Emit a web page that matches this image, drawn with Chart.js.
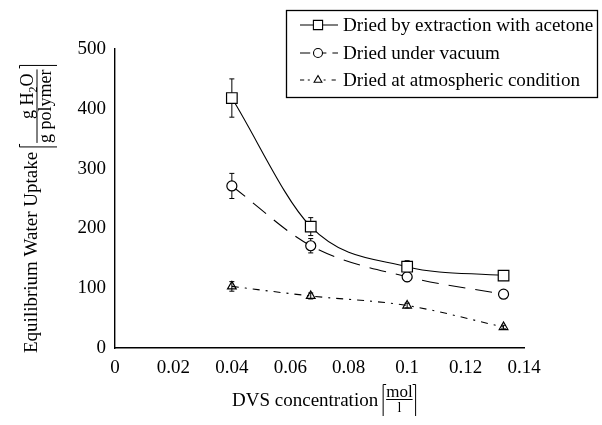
<!DOCTYPE html>
<html><head><meta charset="utf-8">
<script src="https://cdn.jsdelivr.net/npm/chart.js@4/dist/chart.umd.min.js"></script>
<style>html,body{margin:0;padding:0;background:#fff;}canvas{display:block;}</style>
</head><body>
<canvas id="c" width="602" height="425"></canvas>
<script>
// ---- data ----
const xValues = [0.04, 0.067, 0.1, 0.133];
const acetone = [418, 203, 136, 121];
const vacuum = [271, 171, 119, 90];
const atmospheric = [103, 87, 71, 35];
const acetoneErr = [32, 15, 10, 6];
const vacuumErr = [21, 12, 8, 5];
const atmosphericErr = [8, 5, 4, 3];
const seriesNames = ['Dried by extraction with acetone', 'Dried under vacuum', 'Dried at atmospheric condition'];
const xTicks = [0, 0.02, 0.04, 0.06, 0.08, 0.1, 0.12, 0.14];
const xTickLabels = ['0', '0.02', '0.04', '0.06', '0.08', '0.1', '0.12', '0.14'];
const yTicks = [0, 100, 200, 300, 400, 500];
const yTickLabels = ['0', '100', '200', '300', '400', '500'];
const xTitle = 'DVS concentration';
const xUnitTop = 'mol';
const xUnitBottom = 'l';
const yTitle = 'Equilibrium Water Uptake';
const yUnitTopParts = ['g H', '2', 'O'];
const yUnitBottom = 'g polymer';

const FONT = '"Liberation Serif", "DejaVu Serif", serif';

function pts(ys) { return xValues.map((x, i) => ({ x: x, y: ys[i] })); }

const datasets = [
  { label: seriesNames[0], data: pts(acetone), errors: acetoneErr, pointStyle: 'rect', pointRadius: 7.5,
    borderDash: [], pointBackgroundColor: '#fff' },
  { label: seriesNames[1], data: pts(vacuum), errors: vacuumErr, pointStyle: 'circle', pointRadius: 5,
    borderDash: [17, 10], pointBackgroundColor: '#fff' },
  { label: seriesNames[2], data: pts(atmospheric), errors: atmosphericErr, pointStyle: 'triangle', pointRadius: 5,
    borderDash: [7, 6, 2, 6], pointBackgroundColor: 'rgba(255,255,255,0)' }
].map(d => Object.assign({
  borderColor: '#000', borderWidth: 1.1, pointBorderColor: '#000', pointBorderWidth: 1.2,
  fill: false, cubicInterpolationMode: 'monotone', pointHoverRadius: 5
}, d));

const errorBars = {
  id: 'errorBars',
  beforeDatasetsDraw(chart) {
    const ctx = chart.ctx, ys = chart.scales.y;
    ctx.save();
    ctx.strokeStyle = '#000';
    ctx.lineWidth = 1;
    chart.data.datasets.forEach((ds, di) => {
      const meta = chart.getDatasetMeta(di);
      meta.data.forEach((pt, i) => {
        const v = ds.data[i].y, e = ds.errors[i];
        const x = pt.x, y1 = ys.getPixelForValue(v + e), y2 = ys.getPixelForValue(v - e);
        ctx.beginPath();
        ctx.moveTo(x, y1); ctx.lineTo(x, y2);
        ctx.moveTo(x - 2.5, y1); ctx.lineTo(x + 2.5, y1);
        ctx.moveTo(x - 2.5, y2); ctx.lineTo(x + 2.5, y2);
        ctx.stroke();
      });
    });
    ctx.restore();
  }
};

const decorations = {
  id: 'decorations',
  afterDraw(chart) {
    const ctx = chart.ctx;
    ctx.save();
    ctx.fillStyle = '#000';
    ctx.strokeStyle = '#000';
    // ---- legend ----
    ctx.lineWidth = 1.3;
    ctx.strokeRect(286.5, 10.5, 311, 87);
    const rows = [25, 53, 80];
    chart.data.datasets.forEach((ds, i) => {
      const y = rows[i];
      ctx.save();
      ctx.lineWidth = 1.1;
      ctx.setLineDash(ds.borderDash.length ? [ds.borderDash[0] * 0.6, ds.borderDash[1] * 0.6].concat(ds.borderDash.slice(2)) : []);
      ctx.beginPath(); ctx.moveTo(300, y); ctx.lineTo(338, y); ctx.stroke();
      ctx.restore();
      ctx.save();
      ctx.fillStyle = '#fff';
      ctx.lineWidth = 1.1;
      Chart.helpers.drawPoint(ctx, { pointStyle: ds.pointStyle, radius: ds.pointStyle === 'rect' ? 6.5 : 4.5, borderWidth: 1.1, rotation: 0 }, 318, y);
      ctx.restore();
      ctx.font = '19.1px ' + FONT;
      ctx.textBaseline = 'middle';
      ctx.textAlign = 'left';
      ctx.fillText(ds.label, 343, y + 1);
    });

    // ---- x axis title ----
    ctx.font = '19px ' + FONT;
    ctx.textBaseline = 'alphabetic';
    ctx.textAlign = 'left';
    const xt0 = 232, xb = 406;
    ctx.fillText(xTitle, xt0, xb);
    let xw = ctx.measureText(xTitle).width;
    let bx = xt0 + xw + 5;
    ctx.font = '17px ' + FONT;
    const muw = ctx.measureText(xUnitTop).width;
    ctx.lineWidth = 1;
    ctx.beginPath();
    ctx.moveTo(bx + 3, 384.5); ctx.lineTo(bx, 384.5); ctx.lineTo(bx, 416);
    const bx2 = bx + muw + 6;
    ctx.moveTo(bx2 - 3, 384.5); ctx.lineTo(bx2, 384.5); ctx.lineTo(bx2, 416);
    ctx.moveTo(bx + 3, 399.5); ctx.lineTo(bx2 - 3, 399.5);
    ctx.stroke();
    ctx.textAlign = 'center';
    ctx.fillText(xUnitTop, (bx + bx2) / 2, 397);
    ctx.font = '14px ' + FONT;
    ctx.fillText(xUnitBottom, (bx + bx2) / 2, 412);

    // ---- y axis title ----
    ctx.save();
    ctx.translate(37, 353);
    ctx.rotate(-Math.PI / 2);
    ctx.font = '19px ' + FONT;
    ctx.textAlign = 'left';
    ctx.textBaseline = 'alphabetic';
    ctx.fillText(yTitle, 0, 0);
    const yw = ctx.measureText(yTitle).width;
    const u0 = yw + 5;
    ctx.font = '18px ' + FONT;
    const dW = ctx.measureText(yUnitBottom).width;
    const n1 = ctx.measureText(yUnitTopParts[0]).width;
    ctx.font = '12px ' + FONT;
    const n2 = ctx.measureText(yUnitTopParts[1]).width;
    ctx.font = '18px ' + FONT;
    const n3 = ctx.measureText(yUnitTopParts[2]).width;
    const nW = n1 + n2 + n3;
    const fw = Math.max(dW, nW);
    const fs = u0 + 4, fe = fs + fw;
    ctx.lineWidth = 1;
    ctx.beginPath();
    ctx.moveTo(u0 + 3, -17.5); ctx.lineTo(u0, -17.5); ctx.lineTo(u0, 20);
    ctx.moveTo(fe + 1, -17.5); ctx.lineTo(fe + 4, -17.5); ctx.lineTo(fe + 4, 20);
    ctx.moveTo(fs, 0); ctx.lineTo(fe, 0);
    ctx.stroke();
    let nu = fe - nW - 4;
    ctx.font = '18px ' + FONT;
    ctx.fillText(yUnitTopParts[0], nu, -4);
    ctx.font = '12px ' + FONT;
    ctx.fillText(yUnitTopParts[1], nu + n1, 0);
    ctx.font = '18px ' + FONT;
    ctx.fillText(yUnitTopParts[2], nu + n1 + n2, -4);
    ctx.fillText(yUnitBottom, fs + (fw - dW) / 2, 14);
    ctx.restore();

    ctx.restore();
  }
};

new Chart(document.getElementById('c'), {
  type: 'line',
  data: { datasets: datasets },
  options: {
    responsive: false,
    animation: false,
    devicePixelRatio: 1,
    layout: { padding: { left: 0, top: 49, right: 78, bottom: 0 } },
    plugins: { legend: { display: false }, tooltip: { enabled: false }, title: { display: false } },
    scales: {
      x: {
        type: 'linear', min: 0, max: 0.14,
        afterBuildTicks: s => { s.ticks = xTicks.map(v => ({ value: v })); },
        afterFit: s => { s.height = 77; },
        grid: { display: false, drawTicks: false },
        border: { display: true, color: '#000', width: 1.4 },
        ticks: {
          color: '#000', padding: 9, maxRotation: 0, autoSkip: false,
          font: { family: FONT, size: 19 },
          callback: (v, i) => xTickLabels[i]
        }
      },
      y: {
        type: 'linear', min: 0, max: 500,
        afterBuildTicks: s => { s.ticks = yTicks.map(v => ({ value: v })); },
        afterFit: s => { s.width = 115; },
        grid: { display: false, drawTicks: false },
        border: { display: true, color: '#000', width: 1.4 },
        ticks: {
          color: '#000', padding: 9, autoSkip: false,
          font: { family: FONT, size: 19 },
          callback: (v, i) => yTickLabels[i]
        }
      }
    }
  },
  plugins: [errorBars, decorations]
});
</script>
</body></html>
